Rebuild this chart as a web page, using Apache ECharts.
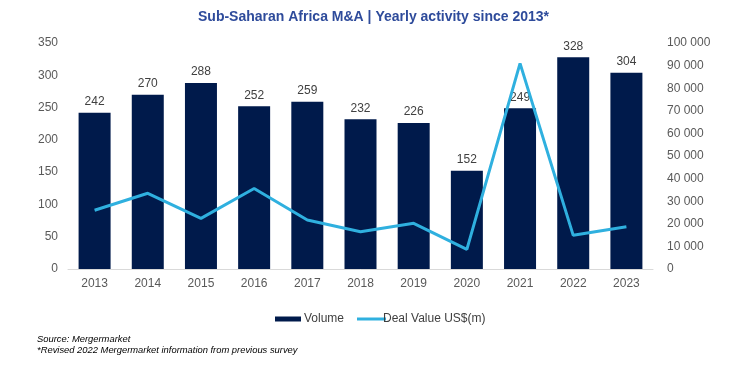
<!DOCTYPE html>
<html><head><meta charset="utf-8">
<script src="https://cdn.jsdelivr.net/npm/echarts@6/dist/echarts.min.js"></script>
<style>html,body{margin:0;padding:0;background:#fff}#c{width:747px;height:372px}</style>
</head><body><div id="c"></div>
<script>
var years = ['2013','2014','2015','2016','2017','2018','2019','2020','2021','2022','2023'];
var volume = [242,270,288,252,259,232,226,152,249,328,304];
var dealValue = [26000,33500,22400,35600,21700,16500,20200,8700,91000,14900,18700];

var chart = echarts.init(document.getElementById('c'));
var font = '"Liberation Sans", Arial, sans-serif';
chart.setOption({
  backgroundColor: '#fff',
  animation: false,
  title: {
    text: 'Sub-Saharan Africa M&A | Yearly activity since 2013*',
    left: 'center', top: 5,
    textStyle: {fontFamily: font, fontSize: 14, fontWeight: 'bold', color: '#2E4B9B'}
  },
  legend: [
    {left: 270, top: 308, itemWidth: 26, itemHeight: 5, itemGap: 14,
     textStyle: {fontFamily: font, fontSize: 12, color: '#404040', padding: [0,0,0,-2]},
     data: [{name: 'Volume', icon: 'rect'}]},
    {left: 352, top: 308, itemWidth: 29, itemHeight: 3, itemGap: 14,
     textStyle: {fontFamily: font, fontSize: 12, color: '#404040', padding: [0,0,0,-8]},
     data: [{name: 'Deal Value US$(m)', icon: 'rect'}]}
  ],
  graphic: [
    {type: 'text', left: 37, top: 335, style: {text: 'Source: Mergermarket', font: 'italic 9.4px ' + font, fill: '#000'}},
    {type: 'text', left: 37, top: 346, style: {text: '*Revised 2022 Mergermarket information from previous survey', font: 'italic 9.4px ' + font, fill: '#000'}}
  ],
  grid: {left: 68, right: 94, top: 43, bottom: 103},
  xAxis: {
    type: 'category', data: years,
    axisLine: {lineStyle: {color: '#d9d9d9'}},
    axisTick: {show: false},
    axisLabel: {fontFamily: font, fontSize: 12, color: '#595959', margin: 9}
  },
  yAxis: [
    {type: 'value', min: 0, max: 350, interval: 50, splitLine: {show: false},
     axisLabel: {fontFamily: font, fontSize: 12, color: '#595959', margin: 10}},
    {type: 'value', min: 0, max: 100000, interval: 10000, splitLine: {show: false},
     axisLabel: {fontFamily: font, fontSize: 12, color: '#595959', margin: 14,
       formatter: function(v){ return v >= 1000 ? Math.floor(v/1000) + ' ' + String(v%1000).padStart(3,'0') : String(v); }}}
  ],
  series: [
    {name: 'Volume', type: 'bar', data: volume, barWidth: 32,
     itemStyle: {color: '#001A4B'},
     label: {show: true, position: 'top', distance: 5, fontFamily: font, fontSize: 12, color: '#404040'}},
    {name: 'Deal Value US$(m)', type: 'line', yAxisIndex: 1, data: dealValue,
     symbol: 'none', lineStyle: {color: '#2FB0DF', width: 3}, itemStyle: {color: '#2FB0DF'}}
  ]
});
</script></body></html>
